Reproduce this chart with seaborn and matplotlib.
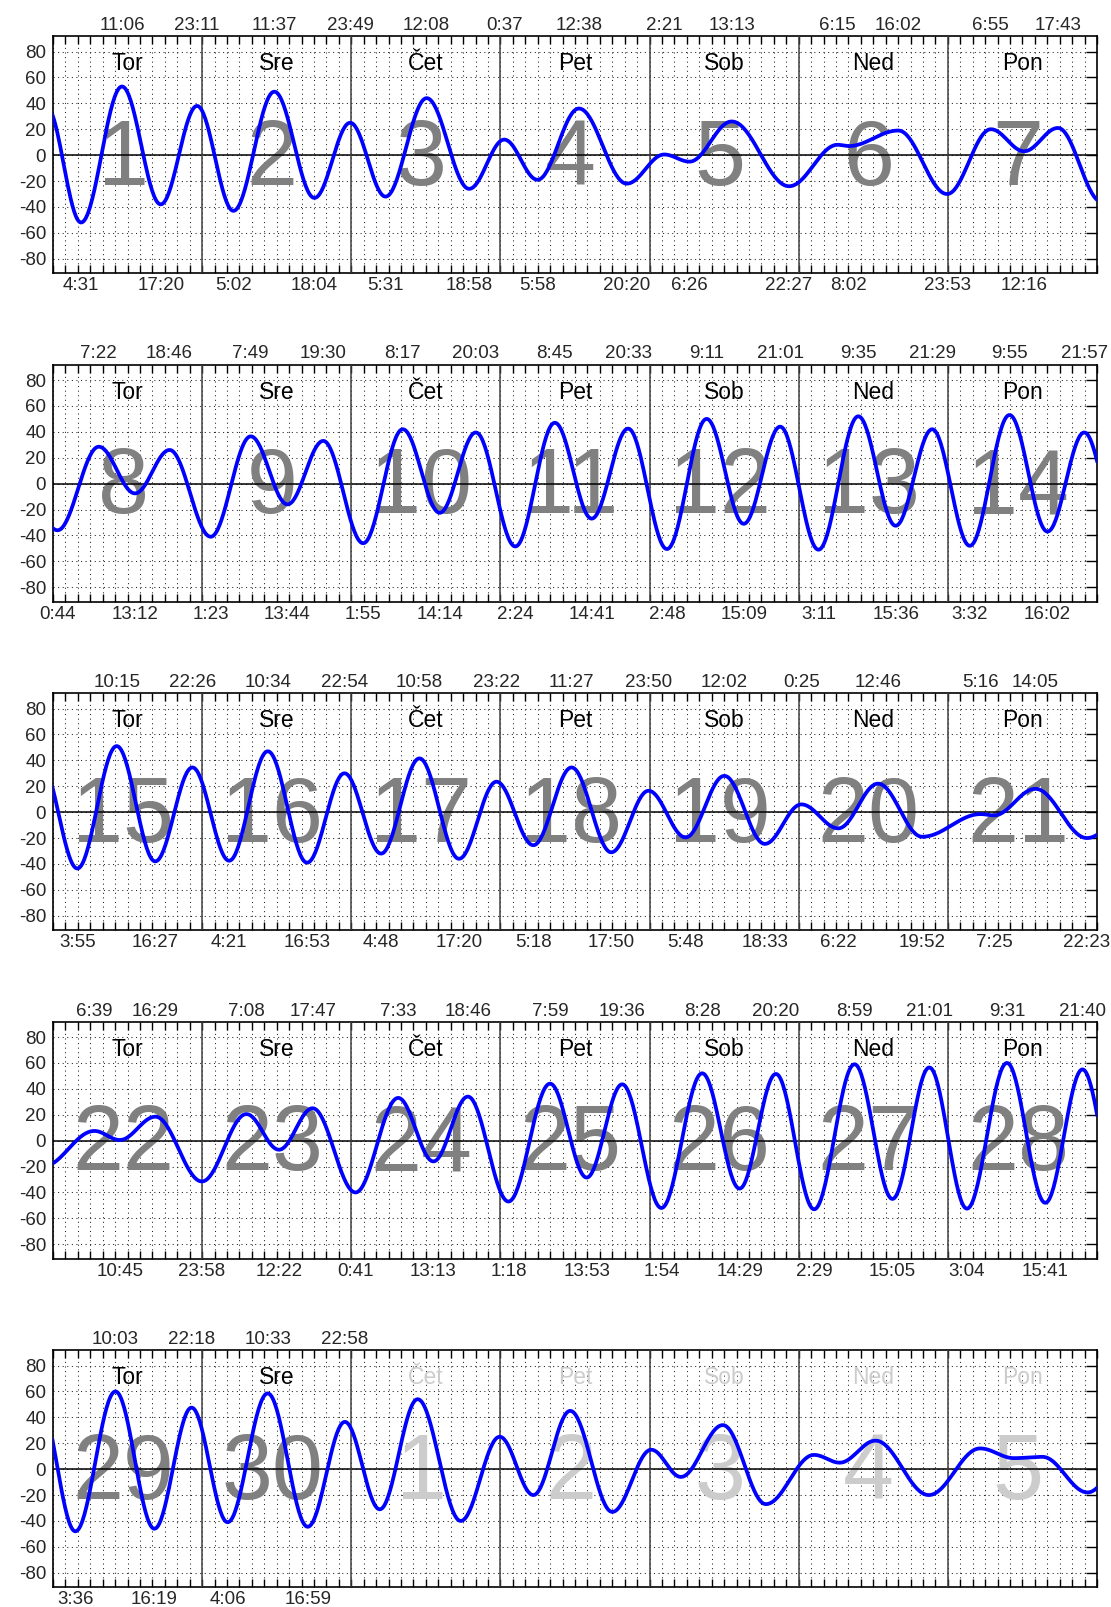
import numpy as np
import pandas as pd
import matplotlib
matplotlib.use("Agg")
import matplotlib.pyplot as plt
import seaborn as sns
from matplotlib.transforms import blended_transform_factory

# ---------------- data: tide extremes (day of sequence, time) and height in cm ----------------
ext_time = [
    "0 22:55",
    "1 4:31", "1 11:06", "1 17:20", "1 23:11",
    "2 5:02", "2 11:37", "2 18:04", "2 23:49",
    "3 5:31", "3 12:08", "3 18:58",
    "4 0:37", "4 5:58", "4 12:38", "4 20:20",
    "5 2:21", "5 6:26", "5 13:13", "5 22:27",
    "6 6:15", "6 8:02", "6 16:02", "6 23:53",
    "7 6:55", "7 12:16", "7 17:43",
    "8 0:44", "8 7:22", "8 13:12", "8 18:46",
    "9 1:23", "9 7:49", "9 13:44", "9 19:30",
    "10 1:55", "10 8:17", "10 14:14", "10 20:03",
    "11 2:24", "11 8:45", "11 14:41", "11 20:33",
    "12 2:48", "12 9:11", "12 15:09", "12 21:01",
    "13 3:11", "13 9:35", "13 15:36", "13 21:29",
    "14 3:32", "14 9:55", "14 16:02", "14 21:57",
    "15 3:55", "15 10:15", "15 16:27", "15 22:26",
    "16 4:21", "16 10:34", "16 16:53", "16 22:54",
    "17 4:48", "17 10:58", "17 17:20", "17 23:22",
    "18 5:18", "18 11:27", "18 17:50", "18 23:50",
    "19 5:48", "19 12:02", "19 18:33",
    "20 0:25", "20 6:22", "20 12:46", "20 19:52",
    "21 5:16", "21 7:25", "21 14:05", "21 22:23",
    "22 6:39", "22 10:45", "22 16:29", "22 23:58",
    "23 7:08", "23 12:22", "23 17:47",
    "24 0:41", "24 7:33", "24 13:13", "24 18:46",
    "25 1:18", "25 7:59", "25 13:53", "25 19:36",
    "26 1:54", "26 8:28", "26 14:29", "26 20:20",
    "27 2:29", "27 8:59", "27 15:05", "27 21:01",
    "28 3:04", "28 9:31", "28 15:41", "28 21:40",
    "29 3:36", "29 10:03", "29 16:19", "29 22:18",
    "30 4:06", "30 10:33", "30 16:59", "30 22:58",
    "31 4:35", "31 10:41", "31 17:37", "31 23:53",
    "32 5:18", "32 11:14", "32 18:00",
    "33 0:16", "33 5:02", "33 11:48", "33 18:43",
    "34 2:28", "34 6:36", "34 12:22", "34 20:56",
    "35 5:11", "35 10:37", "35 15:14", "35 22:29",
    "36 5:00",
]
ext_cm = [
    38,
    -52, 53, -38, 38,
    -43, 49, -33, 25,
    -32, 44, -26,
    12, -19, 36, -22,
    0.5, -5, 26, -24,
    8, 7, 19, -30,
    20, 3, 21,
    -36, 28.5, -7.5, 26,
    -41, 36.5, -16, 33,
    -46, 42, -22.5, 39.5,
    -48.5, 47, -27, 42.5,
    -50.5, 50, -31, 44,
    -51, 52, -32.5, 42,
    -48, 53, -37, 39.5,
    -43.5, 51, -38, 34.5,
    -37.5, 47, -39, 30,
    -32, 41.5, -36, 23.5,
    -25.5, 34.5, -31, 16.5,
    -19.5, 28, -24.5,
    6, -12.5, 22, -19,
    -1.5, -2.5, 18, -20,
    7.5, 0.5, 18.5, -31.5,
    20.5, -7, 25,
    -40, 33, -16, 34,
    -47, 44, -28.5, 43.5,
    -52, 52, -37, 51.5,
    -53, 59, -45, 56.5,
    -52.5, 60, -48, 55,
    -48, 60, -46, 47.5,
    -41, 58.5, -44.5, 36.5,
    -31, 54, -40, 25,
    -20, 45, -33,
    15, -6, 34, -27,
    11, 5, 22, -20,
    16, 8.5, 9.5, -18,
    10,
]
day_names = ["Tor", "Sre", "Čet", "Pet", "Sob", "Ned", "Pon"]
day_numbers = list(range(1, 31)) + [1, 2, 3, 4, 5]
month_days = 30
y_ticks = [-80, -60, -40, -20, 0, 20, 40, 60, 80]

# ---------------- parse ----------------
t_days, labels = [], []
for s in ext_time:
    d, hm = s.split()
    h, m = hm.split(":")
    t_days.append(int(d) - 1 + (int(h) + int(m) / 60) / 24)
    labels.append(hm)
t_days = np.array(t_days)
cm = np.array(ext_cm, dtype=float)
day_idx = [int(s.split()[0]) for s in ext_time]
is_high = [(cm[i] > cm[i + 1]) if i == 0 else (cm[i] > cm[i - 1]) for i in range(len(cm))]

# smooth tidal curve through the extremes (half-cosine between successive extremes)
tt, vv = [], []
for i in range(len(cm) - 1):
    s = np.linspace(0, 1, 40, endpoint=False)
    tt.append(t_days[i] + s * (t_days[i + 1] - t_days[i]))
    vv.append(cm[i] + (cm[i + 1] - cm[i]) * (1 - np.cos(np.pi * s)) / 2)
tt = np.concatenate(tt)
vv = np.concatenate(vv)

# ---------------- figure ----------------
sns.set_style("ticks")
plt.rcParams["font.family"] = ["Liberation Sans", "DejaVu Sans"]

W, H = 1111, 1607
fig = plt.figure(figsize=(W / 100, H / 100), dpi=100)
left_px, width_px, top0, pitch, h_px = 53, 1044, 36, 328.5, 237

for r in range(5):
    ax = fig.add_axes([left_px / W, 1 - (top0 + pitch * r + h_px) / H, width_px / W, h_px / H])
    m = (tt >= 7 * r - 0.05) & (tt <= 7 * r + 7.05)
    df = pd.DataFrame({"x": tt[m] - 7 * r, "y": vv[m]})
    sns.lineplot(data=df, x="x", y="y", ax=ax, color="#0000ff", linewidth=2.7,
                 sort=False, estimator=None, zorder=5)
    ax.set_xlim(0, 7)
    ax.set_ylim(-91, 92)
    ax.set_xlabel("")
    ax.set_ylabel("")
    ax.set_xticks(np.arange(0, 7.001, 1 / 12))
    ax.set_yticks(y_ticks)
    ax.set_yticklabels([str(v) for v in y_ticks])
    ax.tick_params(axis="x", direction="in", length=5.8, width=1, top=True, bottom=True,
                   labelbottom=False, color="black")
    ax.tick_params(axis="y", direction="in", length=7.7, width=1, left=False, right=True,
                   labelleft=True, labelsize=13.5, pad=5, color="black")
    ax.set_axisbelow(True)
    ax.grid(True, linestyle=(0, (1, 3.4)), color="#222222", linewidth=0.75)
    for sp in ax.spines.values():
        sp.set_color("black")
        sp.set_linewidth(1.2)
    ax.axhline(0, color="black", linewidth=1.1, zorder=3)
    for d in range(1, 7):
        ax.axvline(d, color="#404040", linewidth=1.1, zorder=3)

    for d in range(7):
        k = 7 * r + d
        col_num = "#808080" if k < month_days else "#cccccc"
        col_name = "black" if k < month_days else "#cccccc"
        ax.text(d + 0.47, -23, str(day_numbers[k]), ha="center", va="baseline",
                fontsize=66, color=col_num, zorder=1)
        ax.text(d + 0.5, 65.5, day_names[d], ha="center", va="baseline",
                fontsize=16.5, color=col_name, zorder=4)

    tr = blended_transform_factory(ax.transData, ax.transAxes)
    for i in range(len(cm)):
        if 1 <= day_idx[i] <= month_days and 7 * r <= t_days[i] < 7 * r + 7:
            x = t_days[i] - 7 * r
            if is_high[i]:
                ax.text(x, 1 + 6 / h_px, labels[i], transform=tr, ha="center", va="baseline",
                        fontsize=13.5)
            else:
                ax.text(x, -17 / h_px, labels[i], transform=tr, ha="center", va="baseline",
                        fontsize=13.5)

fig.savefig("out.png", dpi=100)
